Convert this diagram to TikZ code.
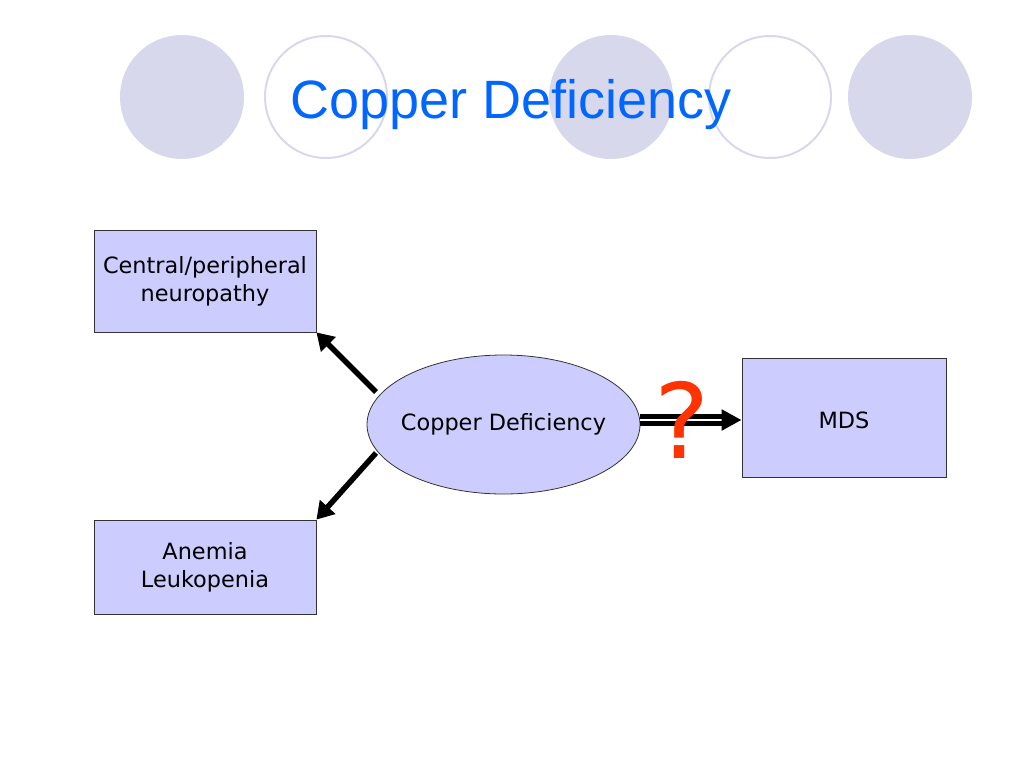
\documentclass[tikz,border=0pt]{standalone}
\usepackage{fontspec}
\setmainfont{DejaVu Sans}
\newfontfamily\titlefont{Liberation Sans}
\usetikzlibrary{arrows.meta,shapes.geometric}
\definecolor{circfill}{HTML}{D8D8EC}
\definecolor{boxfill}{HTML}{CCCCFF}
\definecolor{titleblue}{HTML}{0066FF}
\definecolor{qred}{HTML}{FF3300}
\tikzset{
  bodyfont/.style={font=\fontsize{22.4}{28}\selectfont},
  deco/.style={fill=circfill, draw=none},
  decoring/.style={draw=circfill, line width=2pt, fill=none},
  boxnode/.style={draw=black!80, line width=0.8pt, fill=boxfill, inner sep=0pt, align=center, bodyfont},
  thickarrow/.style={line width=5.5pt, -{Triangle[length=17pt,width=20pt]}},
}
\begin{document}
\begin{tikzpicture}[x=1pt,y=-1pt]
\useasboundingbox (0,0) rectangle (1024,768);
% decorative circles
\fill[deco] (182,97) circle (62);
\draw[decoring] (326,97) circle (61);
\fill[deco] (611,97) circle (62);
\draw[decoring] (770,97) circle (61);
\fill[deco] (910,97) circle (62);
\node[text=titleblue, font=\titlefont\fontsize{54}{60}\selectfont, anchor=base west, inner sep=0pt] (title) at (290,118) {Copper Deficiency};
% nodes
\node[boxnode, minimum width=222pt, minimum height=102pt] (neuro) at (205,281) {Central/peripheral\\neuropathy};
\node[boxnode, minimum width=222pt, minimum height=94pt] (anemia) at (205,567) {Anemia\\Leukopenia};
\node[boxnode, minimum width=204pt, minimum height=119pt] (mds) at (844,417.5) {};
\node[bodyfont] (mdstext) at (844,420) {MDS};
\node[ellipse, draw=black!80, line width=0.8pt, fill=boxfill, minimum width=273pt, minimum height=139pt, inner sep=0pt] (cu) at (503.5,424.5) {};
\node[bodyfont] (cutext) at (503.5,424.5) {Copper Deficiency};
% connectors
\coordinate (ua) at (376,392);
\coordinate (la) at (376,453);
\coordinate (rs) at (640,420);
\draw[thickarrow] (ua) -- (neuro.south east);
\draw[thickarrow] (la) -- (anemia.north east);
\draw[line width=5pt, double=white, double distance=1.4pt, -{Triangle[length=20pt,width=20pt]}] (rs) -- (mds.west |- rs);
\node[text=qred, font=\fontsize{104}{104}\selectfont, inner sep=0pt] (q) at (682,420) {?};
\end{tikzpicture}
\end{document}
